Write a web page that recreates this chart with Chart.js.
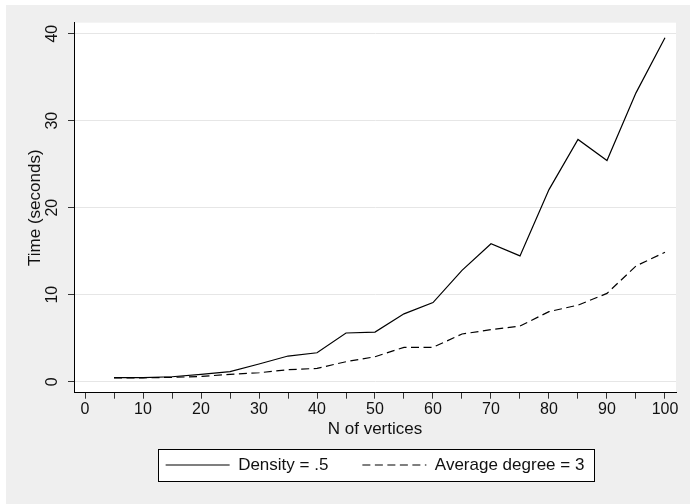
<!DOCTYPE html>
<html>
<head>
<meta charset="utf-8">
<script src="https://cdn.jsdelivr.net/npm/chart.js@4"></script>
<style>
  html, body { margin: 0; padding: 0; background: #fff; }
  #wrap { position: absolute; left: 6px; top: 5px; width: 684px; height: 499px; background: #efefef; }
  canvas { display: block; }
</style>
</head>
<body>
<div id="wrap"><canvas id="chart" width="684" height="499"></canvas></div>
<script>
// Run time vs graph size

const nVertices = [5, 10, 15, 20, 25, 30, 35, 40, 45, 50, 55, 60, 65, 70, 75, 80, 85, 90, 95, 100];
const densityHalf = [0.46, 0.46, 0.57, 0.84, 1.15, 2.03, 2.95, 3.33, 5.6, 5.7, 7.8, 9.1, 12.8, 15.85, 14.46, 22.08, 27.85, 25.42, 33.2, 39.54];
const avgDegree3 = [0.45, 0.45, 0.5, 0.6, 0.85, 1.03, 1.38, 1.53, 2.3, 2.87, 3.95, 3.95, 5.48, 5.98, 6.4, 8.05, 8.8, 10.15, 13.3, 14.88];

const xTicks = [0, 5, 10, 15, 20, 25, 30, 35, 40, 45, 50, 55, 60, 65, 70, 75, 80, 85, 90, 95, 100];
const yTicks = [0, 10, 20, 30, 40];

const FONT = "'Liberation Sans', Arial, sans-serif";
const INK = "#111";
const TEXT_SIZE = 17;

const points = ys => nVertices.map((n, i) => ({ x: n, y: ys[i] }));

// white plot region + framed legend, Stata style
const backdrop = {
  id: "backdrop",
  beforeDraw(chart) {
    const { ctx, chartArea: a, legend } = chart;
    ctx.save();
    ctx.fillStyle = "#fff";
    ctx.fillRect(a.left, a.top, a.right - a.left, a.bottom - a.top);

    if (legend && legend.lineWidths) {
      const pad = legend.options.labels.padding;
      const start = (legend.left + pad + legend.right - legend.lineWidths[0]) / 2;
      const end = start + legend.lineWidths[0] - pad;
      const cy = legend.top + pad + TEXT_SIZE / 2;
      const x0 = Math.round(start - 7.5) + 0.5;
      const x1 = Math.round(end + 10) + 0.5;
      const y0 = Math.round(cy - 16) + 0.5;
      const y1 = Math.round(cy + 16) + 0.5;
      ctx.fillRect(x0, y0, x1 - x0, y1 - y0);
      ctx.strokeStyle = "#000";
      ctx.lineWidth = 1;
      ctx.strokeRect(x0, y0, x1 - x0, y1 - y0);
    }
    ctx.restore();
  }
};

new Chart(document.getElementById("chart"), {
  type: "line",
  data: {
    datasets: [
      {
        label: "Density = .5",
        data: points(densityHalf),
        borderColor: "#000",
        backgroundColor: "#000",
        borderWidth: 1.2,
        pointRadius: 0,
        tension: 0
      },
      {
        label: "Average degree = 3",
        data: points(avgDegree3),
        borderColor: "#000",
        backgroundColor: "#000",
        borderWidth: 1.2,
        borderDash: [8, 4.5],
        pointRadius: 0,
        tension: 0
      }
    ]
  },
  options: {
    responsive: false,
    animation: false,
    devicePixelRatio: 1,
    layout: { padding: { top: 17.7, right: 14, left: 0, bottom: 20.5 } },
    plugins: {
      tooltip: { enabled: false },
      legend: {
        position: "bottom",
        fullSize: false,
        labels: {
          usePointStyle: true,
          pointStyle: "line",
          pointStyleWidth: 64,
          padding: 34,
          color: INK,
          font: { family: FONT, size: TEXT_SIZE },
          generateLabels: chart => {
            const items = Chart.defaults.plugins.legend.labels.generateLabels(chart);
            items.forEach(it => {
              it.lineDash = chart.data.datasets[it.datasetIndex].borderDash || [];
            });
            return items;
          }
        }
      }
    },
    scales: {
      x: {
        type: "linear",
        min: -1.9,
        max: 101.9,
        afterBuildTicks: s => { s.ticks = xTicks.map(v => ({ value: v })); },
        afterFit: s => { s.height = 29.8; },
        ticks: {
          autoSkip: false,
          maxRotation: 0,
          padding: 1,
          color: INK,
          font: { family: FONT, size: 16 },
          callback: v => (v % 10 === 0 ? String(v) : "")
        },
        grid: { drawOnChartArea: false, tickLength: 6, tickColor: "#333", lineWidth: 1 },
        border: { display: true, color: "#000", width: 1 },
        title: {
          display: true,
          text: "N of vertices",
          color: INK,
          font: { family: FONT, size: TEXT_SIZE },
          padding: { top: 0, bottom: -16.9 }
        }
      },
      y: {
        min: -1.264,
        max: 41.264,
        afterBuildTicks: s => { s.ticks = yTicks.map(v => ({ value: v })); },
        afterFit: s => { s.width = 68; },
        ticks: {
          minRotation: 90,
          maxRotation: 90,
          crossAlign: "center",
          padding: 6.6,
          color: INK,
          font: { family: FONT, size: 16 }
        },
        grid: { color: "#e6e6e6", tickColor: "#333", tickLength: 6, lineWidth: 1 },
        border: { display: true, color: "#000", width: 1 },
        title: {
          display: true,
          text: "Time (seconds)",
          color: INK,
          font: { family: FONT, size: TEXT_SIZE },
          padding: { top: 18.8, bottom: 0 }
        }
      }
    }
  },
  plugins: [backdrop]
});
</script>
</body>
</html>
